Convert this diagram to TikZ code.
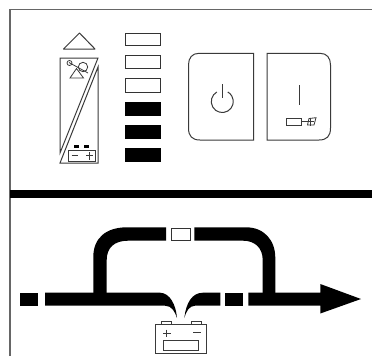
\documentclass[tikz,border=0pt]{standalone}
\usepackage{xcolor}
\begin{document}
\begin{tikzpicture}[x=1pt,y=-1pt]

% Colori
\definecolor{lineGray}{HTML}{3A3A3A}
\definecolor{frameGray}{HTML}{666666}

\tikzset{
  thin line/.style={draw=lineGray, line width=1pt},
  hair line/.style={draw=lineGray, line width=0.8pt},
  lamp/.style={draw=black!80, line width=1pt, fill=white}
}

\useasboundingbox (0,0) rectangle (372,356);
\fill[white] (0,0) rectangle (372,356);

% Cornice
\draw[frameGray, line width=1.5pt] (10,356) -- (10,9.5) -- (372,9.5);
\fill[black] (10,190) rectangle (372,198);

% Triangolo
\draw[thin line, line join=round] (63.5,49) -- (79.5,33) -- (95,49) -- cycle;

% Pannello
\draw[thin line] (60,153) -- (60,58) -- (98,58) -- cycle;
\draw[thin line] (98,67) -- (60,163) -- (98,163) -- cycle;

% Simbolo in alto
\draw[hair line] (70,78) -- (83.5,78) -- (76.5,68.5) -- cycle;
\draw[hair line] (69,62.5) -- (88,73);
\draw[hair line] (69.5,63) circle (2.5);
\draw[hair line] (83,67) circle (4.7);

% Batteria piccola
\draw[thin line] (68.5,150) rectangle (95.5,161.5);
\fill[black] (73.5,144.5) rectangle (79,147.5);
\fill[black] (83.5,144.5) rectangle (89,147.5);
\draw[thin line] (71.5,155.5) -- (77.5,155.5);
\draw[thin line] (86,155.5) -- (92.5,155.5);
\draw[thin line] (89.2,152) -- (89.2,159.5);

% Spie
\foreach \ya/\yb in {33/45.5, 55.5/68.5, 78.5/92.5}
  \draw[lamp] (125.5,\ya) rectangle (160.5,\yb);
\foreach \ya/\yb in {102/116, 125/138.7, 147.7/161.7}
  \fill[black] (125,\ya) rectangle (161,\yb);

% Tasto sinistro
\draw[thin line] (253.5,53.3) -- (199,53.3) .. controls (192,53.3) and (188.5,58) .. (188.5,65)
  -- (188.5,128) .. controls (188.5,136) and (192,140) .. (200,140) -- (253.5,140) -- cycle;
\draw[thin line] (216.8,92) arc[start angle=-120,end angle=-420,radius=11];
\draw[thin line] (222.3,84) -- (222.3,98);

% Tasto destro
\draw[thin line] (267,53.3) -- (320,53.3) .. controls (327,53.3) and (330.5,58) .. (330.5,65)
  -- (330.5,128) .. controls (330.5,136) and (327,140) .. (319,140) -- (267,140) -- cycle;
\draw[thin line] (299,85) -- (299,105);
\draw[thin line] (286.7,118.3) rectangle (301.7,125);
\draw[hair line] (301.7,121.5) -- (314,121.5);
\draw[hair line] (309,118.5) -- (316,117.7) -- (314,125) -- (307.5,125) -- cycle;
\draw[hair line] (310.5,118) -- (310.5,126);

% Fasce
\fill[black] (19.5,292.7) rectangle (37.5,305.7);
\fill[black] (45,292.7) -- (160,292.7) .. controls (170,293) and (176,305) .. (177,318)
  .. controls (175,312) and (172,305.7) .. (165,305.7) -- (45,305.7) -- cycle;
\fill[black] (220.3,292.7) -- (203,292.7) .. controls (192,292.7) and (186,303) .. (184.3,318)
  .. controls (186,312) and (189,305.7) .. (195,305.7) -- (220.3,305.7) -- cycle;
\fill[black] (225.3,292.7) rectangle (243.3,305.7);

% Freccia
\fill[black] (248.3,292.7) -- (320.3,292.7) -- (320.3,284) -- (361,299) -- (320.3,313.5)
  -- (320.3,305.7) -- (248.3,305.7) -- cycle;

% Rami superiori
\fill[black] (93.3,293) -- (93.3,257) .. controls (93.3,238) and (106,227.3) .. (127,227.3)
  -- (166,227.3) -- (166,240.7) -- (128,240.7) .. controls (114,240.7) and (106.7,248) .. (106.7,260)
  -- (106.7,293) -- cycle;
\fill[black] (194.3,227.3) -- (246,227.3) .. controls (264,227.3) and (275.3,240) .. (275.3,258)
  -- (275.3,293) -- (262.7,293) -- (262.7,260) .. controls (262.7,248) and (255,240.7) .. (243,240.7)
  -- (194.3,240.7) -- cycle;
\draw[lamp] (171.5,228) rectangle (190,240);

% Batteria
\draw[thin line] (155.7,324.5) rectangle (206,353.3);
\draw[thin line] (161,324.5) -- (161,321.3) -- (171.7,321.3) -- (171.7,324.5);
\draw[thin line] (191,324.5) -- (191,321.3) -- (201.7,321.3) -- (201.7,324.5);
\draw[thin line] (163.3,340) rectangle (198.7,350);
\draw[thin line] (163,333.3) -- (170.5,333.3);
\draw[thin line] (166.7,329.5) -- (166.7,337);
\draw[thin line] (193,332.3) -- (200.5,332.3);

\end{tikzpicture}
\end{document}
